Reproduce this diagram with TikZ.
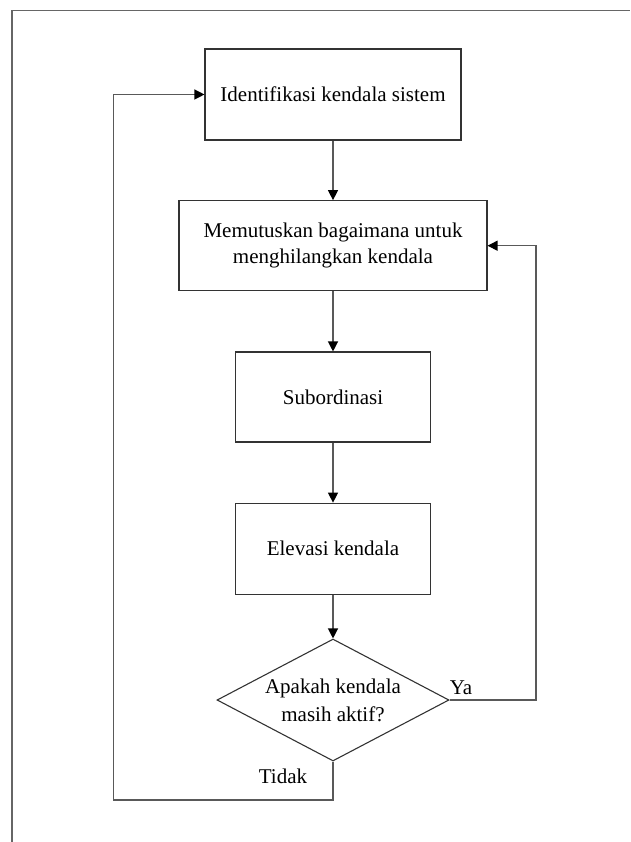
\documentclass[tikz,border=0pt]{standalone}
\usepackage{fontspec}
\setmainfont{Liberation Serif}
\usetikzlibrary{arrows.meta,shapes.geometric}

\begin{document}
\begin{tikzpicture}[x=1pt,y=-1pt,
  every node/.style={font=\fontsize{21}{26}\selectfont},
  stepbox/.style={draw=black!80,line width=1.1pt,rectangle,inner sep=0pt,align=center},
  decision/.style={draw=black!80,line width=1.1pt,diamond,aspect=1.9,inner sep=0pt,align=center,
                   minimum width=232pt,minimum height=122pt},
  link/.style={draw=black!65,line width=1.2pt,-{Triangle[length=10pt,width=10pt,color=black]}},
  frameline/.style={draw=black!60,line width=1.3pt},
  lbl/.style={inner sep=0pt}]
\useasboundingbox (0,0) rectangle (630,842);

% page frame
\draw[frameline] (12,842) -- (12,10.7) -- (630,10.7);

% process steps
\node[stepbox,minimum width=256pt,minimum height=91pt] (b1) at (333,94.5) {Identifikasi kendala sistem};
\node[stepbox,minimum width=308pt,minimum height=90pt] (b2) at (333,245.7)
  {Memutuskan bagaimana untuk\\menghilangkan kendala};
\node[stepbox,minimum width=195pt,minimum height=90pt] (b3) at (333,397) {Subordinasi};
\node[stepbox,minimum width=195pt,minimum height=91pt] (b4) at (333,548.7) {Elevasi kendala};
\node[decision,font=\fontsize{21}{28}\selectfont] (d) at (333,700) {Apakah kendala\\masih aktif?};

% branch labels
\node[lbl] (ya) at (461,688) {Ya};
\node[lbl] (tidak) at (283,776) {Tidak};

% loop corners
\coordinate (yc) at (536,700);
\coordinate (tc) at (113.3,800);

% flow
\draw[link] (b1) -- (b2);
\draw[link] (b2) -- (b3);
\draw[link] (b3) -- (b4);
\draw[link] (b4) -- (d);
\draw[link] (d.east) -- (yc) |- (b2.east);
\draw[link] (d.south) |- (tc) |- (b1.west);
\end{tikzpicture}
\end{document}
